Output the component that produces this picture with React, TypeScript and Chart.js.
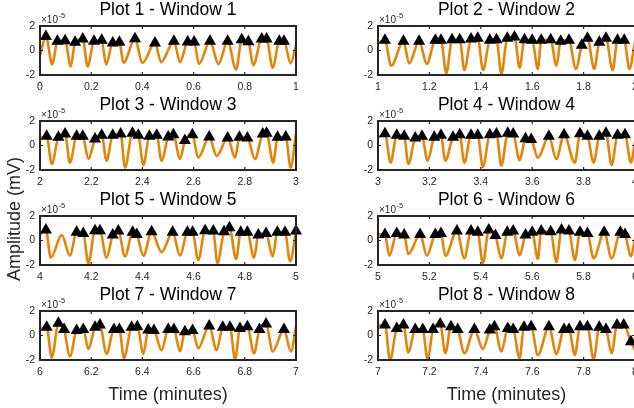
import { useEffect, useRef } from 'react';
import { Chart, registerables } from 'chart.js';

Chart.register(...registerables);

type Pair = [number, number];

// ---- chart text ----
const panelTitles = [
  'Plot 1 - Window 1', 'Plot 2 - Window 2', 'Plot 3 - Window 3', 'Plot 4 - Window 4',
  'Plot 5 - Window 5', 'Plot 6 - Window 6', 'Plot 7 - Window 7', 'Plot 8 - Window 8',
];
const windowStarts = [0, 1, 2, 3, 4, 5, 6, 7];
const xTickStep = 0.2;
const yRange: Pair = [-2, 2];
const yTickStep = 2;
const xAxisTitle = 'Time (minutes)';
const yAxisTitle = 'Amplitude (mV)';
const exponentBase = '\u00d710';
const exponentPower = '-5';

// ---- detected peaks (time in minutes, amplitude in 1e-5 mV) ----
const peaks1: Pair[] = [[0.023, 1.15], [0.068, 0.75], [0.098, 0.8], [0.137, 0.67], [0.167, 0.93], [0.211, 0.75], [0.241, 0.83], [0.284, 0.61], [0.310, 0.67], [0.371, 0.96], [0.449, 0.61], [0.523, 0.75], [0.577, 0.69], [0.602, 0.69], [0.664, 0.75], [0.733, 0.75], [0.788, 0.88], [0.814, 0.72], [0.866, 0.93], [0.885, 0.93], [0.935, 0.75], [0.953, 0.75]];
const peaks2: Pair[] = [[1.027, 0.83], [1.099, 0.75], [1.160, 0.75], [1.223, 0.83], [1.245, 0.83], [1.288, 0.88], [1.318, 0.88], [1.362, 0.93], [1.388, 1.0], [1.435, 0.83], [1.461, 0.88], [1.503, 1.0], [1.531, 1.1], [1.570, 0.88], [1.600, 0.83], [1.635, 0.83], [1.672, 0.88], [1.711, 0.75], [1.743, 0.83], [1.793, 0.43], [1.815, 1.0], [1.861, 0.67], [1.887, 1.0], [1.932, 0.83], [1.958, 0.83]];
const peaks3: Pair[] = [[2.026, 0.75], [2.072, 0.67], [2.098, 0.93], [2.143, 0.75], [2.167, 0.75], [2.215, 0.53], [2.241, 0.83], [2.284, 0.83], [2.315, 0.93], [2.361, 1.0], [2.384, 0.83], [2.427, 0.75], [2.456, 0.83], [2.501, 0.69], [2.521, 0.88], [2.566, 0.4], [2.595, 0.88], [2.661, 0.69], [2.733, 0.61], [2.779, 0.67], [2.810, 0.61], [2.870, 0.93], [2.885, 1.0], [2.928, 0.67], [2.960, 0.69]];
const peaks4: Pair[] = [[3.027, 0.96], [3.073, 0.83], [3.102, 0.75], [3.145, 0.61], [3.171, 0.75], [3.219, 0.67], [3.245, 0.83], [3.292, 0.67], [3.318, 0.88], [3.362, 0.83], [3.388, 0.83], [3.435, 0.88], [3.461, 0.93], [3.505, 1.0], [3.526, 0.93], [3.574, 0.56], [3.596, 0.48], [3.665, 0.75], [3.724, 0.88], [3.786, 0.96], [3.815, 0.75], [3.861, 0.75], [3.887, 1.0], [3.932, 0.83], [3.961, 0.88]];
const peaks5: Pair[] = [[4.023, 0.86], [4.143, 0.67], [4.169, 0.58], [4.215, 0.8], [4.234, 0.8], [4.284, 0.45], [4.306, 0.78], [4.362, 0.67], [4.378, 0.5], [4.436, 0.72], [4.518, 0.67], [4.576, 0.67], [4.596, 0.67], [4.645, 0.8], [4.677, 0.78], [4.719, 0.72], [4.740, 1.05], [4.784, 0.67], [4.810, 0.67], [4.853, 0.45], [4.883, 0.58], [4.927, 0.67], [4.957, 0.67], [5.000, 0.78]];
const peaks6: Pair[] = [[5.027, 0.5], [5.073, 0.58], [5.102, 0.45], [5.164, 0.5], [5.223, 0.5], [5.245, 0.58], [5.307, 0.78], [5.362, 0.78], [5.388, 0.67], [5.431, 0.86], [5.457, 0.4], [5.503, 0.67], [5.526, 0.78], [5.574, 0.45], [5.600, 0.67], [5.635, 0.78], [5.672, 0.72], [5.714, 0.86], [5.743, 0.78], [5.786, 0.67], [5.815, 0.58], [5.880, 0.67], [5.943, 0.67], [5.961, 0.5]];
const peaks7: Pair[] = [[6.026, 0.67], [6.072, 0.99], [6.094, 0.5], [6.143, 0.4], [6.169, 0.5], [6.215, 0.67], [6.234, 0.86], [6.289, 0.5], [6.310, 0.5], [6.358, 0.67], [6.380, 0.72], [6.423, 0.45], [6.445, 0.4], [6.501, 0.5], [6.523, 0.5], [6.566, 0.31], [6.596, 0.4], [6.661, 0.78], [6.714, 0.67], [6.742, 0.67], [6.781, 0.58], [6.810, 0.72], [6.857, 0.5], [6.883, 0.94], [6.953, 0.5]];
const peaks8: Pair[] = [[7.027, 0.86], [7.073, 0.58], [7.099, 0.86], [7.145, 0.5], [7.174, 0.5], [7.214, 0.5], [7.242, 0.94], [7.284, 0.72], [7.310, 0.5], [7.375, 0.5], [7.435, 0.45], [7.453, 0.72], [7.505, 0.58], [7.526, 0.5], [7.568, 0.67], [7.596, 0.72], [7.665, 0.72], [7.724, 0.5], [7.743, 0.5], [7.786, 0.72], [7.815, 0.72], [7.861, 0.67], [7.887, 0.5], [7.930, 0.86], [7.956, 0.86], [7.984, -0.5]];

// ---- signal minima ----
const troughs1: Pair[] = [[0.048, -1.15], [0.120, -1.3], [0.186, -1.3], [0.258, -1.15], [0.326, -1.0], [0.400, -1.0], [0.473, -0.95], [0.547, -0.95], [0.621, -1.1], [0.697, -1.1], [0.766, -1.55], [0.833, -1.2], [0.909, -1.4], [0.979, -1.05]];
const troughs2: Pair[] = [[1.051, -1.25], [1.121, -1.05], [1.190, -1.1], [1.266, -1.85], [1.336, -1.6], [1.409, -1.6], [1.480, -1.9], [1.551, -1.4], [1.622, -1.5], [1.694, -1.25], [1.770, -1.5], [1.841, -1.5], [1.913, -1.6], [1.978, -1.5]];
const troughs3: Pair[] = [[2.046, -1.5], [2.117, -1.4], [2.189, -1.1], [2.260, -1.25], [2.332, -1.8], [2.404, -1.6], [2.475, -1.25], [2.547, -1.1], [2.618, -1.0], [2.690, -0.85], [2.762, -1.0], [2.840, -1.1], [2.911, -1.4], [2.979, -1.8]];
const troughs4: Pair[] = [[3.049, -1.4], [3.118, -1.5], [3.193, -1.25], [3.262, -1.25], [3.336, -1.4], [3.408, -1.75], [3.480, -1.65], [3.551, -1.2], [3.622, -1.0], [3.694, -1.1], [3.766, -1.4], [3.839, -1.4], [3.909, -1.6], [3.984, -1.4]];
const troughs5: Pair[] = [[4.042, -1.4], [4.117, -1.25], [4.189, -1.85], [4.260, -1.4], [4.332, -1.3], [4.404, -1.25], [4.475, -0.95], [4.547, -1.25], [4.618, -1.6], [4.693, -1.85], [4.766, -1.5], [4.836, -1.4], [4.909, -1.3], [4.977, -1.7]];
const troughs6: Pair[] = [[5.044, -1.25], [5.118, -1.1], [5.190, -1.25], [5.262, -1.25], [5.336, -1.45], [5.408, -1.85], [5.480, -1.45], [5.551, -1.2], [5.622, -1.5], [5.694, -1.75], [5.766, -1.6], [5.839, -1.45], [5.909, -1.45], [5.984, -1.3]];
const troughs7: Pair[] = [[6.046, -1.8], [6.117, -1.7], [6.189, -1.1], [6.260, -1.5], [6.328, -1.85], [6.404, -1.5], [6.475, -1.2], [6.547, -1.3], [6.618, -1.05], [6.690, -1.2], [6.762, -1.95], [6.836, -1.45], [6.909, -1.3], [6.980, -1.3]];
const troughs8: Pair[] = [[7.047, -2.0], [7.118, -1.4], [7.193, -1.95], [7.262, -1.45], [7.336, -1.45], [7.408, -1.1], [7.480, -1.3], [7.551, -1.85], [7.622, -1.6], [7.694, -1.5], [7.766, -1.6], [7.839, -1.95], [7.909, -1.45]];

// ---- unmarked local maxima of the trace ----
const humps5: Pair[] = [[4.085, 0.45]];

// ---- trace value at each window's first and last sample ----
const edgeStart = [-0.45, 0.6, 0.6, 0.65, 0.45, 0.5, 0.5, 0.8];
const edgeEnd: (number | null)[] = [0.4, 0.7, 1.0, 0.3, null, 0.2, 0.7, -1.2];

const peakSets = [peaks1, peaks2, peaks3, peaks4, peaks5, peaks6, peaks7, peaks8];
const troughSets = [troughs1, troughs2, troughs3, troughs4, troughs5, troughs6, troughs7, troughs8];
const humpSets: Pair[][] = [[], [], [], [], humps5, [], [], []];

// ---- styling / layout ----
const ORANGE = 'rgb(228,132,8)';
const AXIS_COLOR = '#262626';
const FONT = "'Liberation Sans', Arial, Helvetica, sans-serif";
const CANVAS_W = 646;
const CANVAS_H = 408;
const FRAME_LEFT = [40, 378];
const FRAME_W = [256, 257];
const FRAME_TOP = [26, 121, 216, 311];
const FRAME_H = 49;
const Y_AXIS_W = 30;
const X_AXIS_H = 30;
const TICK_LEN = 3;

Chart.defaults.font.family = FONT;

function tracePoints(i: number) {
  const start = windowStarts[i];
  const pts: Pair[] = [[start, edgeStart[i]], ...peakSets[i], ...troughSets[i], ...humpSets[i]];
  const end = edgeEnd[i];
  if (end !== null) pts.push([start + 1, end]);
  pts.sort((a, b) => a[0] - b[0]);
  return pts.map(([x, y]) => ({ x, y }));
}

function decorPlugin(i: number) {
  const row = Math.floor(i / 2);
  return {
    id: 'panelDecor',
    afterDraw(chart: Chart) {
      const { ctx, chartArea: a } = chart;
      const xs = chart.scales.x;
      const ys = chart.scales.y;
      ctx.save();
      // box
      ctx.strokeStyle = AXIS_COLOR;
      ctx.lineWidth = 2;
      ctx.strokeRect(a.left, a.top, a.right - a.left, a.bottom - a.top);
      // inward tick marks on all four sides
      ctx.lineWidth = 1.2;
      ctx.beginPath();
      xs.ticks.forEach((t) => {
        const px = xs.getPixelForValue(t.value);
        ctx.moveTo(px, a.bottom);
        ctx.lineTo(px, a.bottom - TICK_LEN);
        ctx.moveTo(px, a.top);
        ctx.lineTo(px, a.top + TICK_LEN);
      });
      ys.ticks.forEach((t) => {
        const py = ys.getPixelForValue(t.value);
        ctx.moveTo(a.left, py);
        ctx.lineTo(a.left + TICK_LEN, py);
        ctx.moveTo(a.right, py);
        ctx.lineTo(a.right - TICK_LEN, py);
      });
      ctx.stroke();

      // title
      ctx.fillStyle = '#000';
      ctx.font = `17.5px ${FONT}`;
      ctx.textAlign = 'center';
      ctx.textBaseline = 'middle';
      ctx.fillText(panelTitles[i], (a.left + a.right) / 2, a.top - 16);

      // axis exponent
      ctx.fillStyle = AXIS_COLOR;
      ctx.textAlign = 'left';
      ctx.textBaseline = 'alphabetic';
      ctx.font = `10px ${FONT}`;
      ctx.fillText(exponentBase, a.left + 1, a.top - 3);
      const baseW = ctx.measureText(exponentBase).width;
      ctx.font = `7.5px ${FONT}`;
      ctx.fillText(exponentPower, a.left + 1 + baseW + 0.5, a.top - 8);

      // shared axis titles
      ctx.fillStyle = AXIS_COLOR;
      ctx.font = `18px ${FONT}`;
      ctx.textAlign = 'center';
      ctx.textBaseline = 'middle';
      if (row === 3) {
        ctx.fillText(xAxisTitle, (a.left + a.right) / 2, 395);
      }
      if (i === 0) {
        ctx.translate(15, 219);
        ctx.rotate(-Math.PI / 2);
        ctx.fillText(yAxisTitle, 0, 0);
      }
      ctx.restore();
    },
  };
}

function makeChart(canvas: HTMLCanvasElement, i: number) {
  const col = i % 2;
  const row = Math.floor(i / 2);
  const left = FRAME_LEFT[col];
  const top = FRAME_TOP[row];
  const start = windowStarts[i];
  return new Chart(canvas, {
    type: 'line',
    data: {
      datasets: [
        {
          data: peakSets[i].map(([x, y]) => ({ x, y })),
          showLine: false,
          pointStyle: 'triangle',
          pointRadius: 7,
          pointBackgroundColor: '#000',
          pointBorderColor: '#000',
          pointBorderWidth: 0,
          clip: false,
          order: 0,
        },
        {
          data: tracePoints(i),
          borderColor: ORANGE,
          borderWidth: 2.6,
          pointRadius: 0,
          cubicInterpolationMode: 'monotone',
          fill: false,
          order: 1,
        },
      ],
    },
    options: {
      responsive: false,
      animation: false,
      devicePixelRatio: 1,
      events: [],
      layout: {
        padding: {
          left: left - Y_AXIS_W,
          right: CANVAS_W - (left + FRAME_W[col]),
          top,
          bottom: CANVAS_H - (top + FRAME_H) - X_AXIS_H,
        },
      },
      plugins: {
        legend: { display: false },
        tooltip: { enabled: false },
        title: { display: false },
      },
      scales: {
        x: {
          type: 'linear',
          min: start,
          max: start + 1,
          grid: { display: false, drawTicks: false },
          border: { display: false },
          ticks: {
            stepSize: xTickStep,
            padding: 6,
            color: AXIS_COLOR,
            font: { size: 10.5, family: FONT },
            maxRotation: 0,
            autoSkip: false,
            callback: (v: number | string) => String(Math.round(Number(v) * 10) / 10),
          },
          afterFit: (s: any) => {
            s.height = X_AXIS_H;
          },
        },
        y: {
          type: 'linear',
          min: yRange[0],
          max: yRange[1],
          grid: { display: false, drawTicks: false },
          border: { display: false },
          ticks: {
            stepSize: yTickStep,
            padding: 5,
            color: AXIS_COLOR,
            font: { size: 10.5, family: FONT },
            callback: (v: number | string) => String(v),
          },
          afterFit: (s: any) => {
            s.width = Y_AXIS_W;
          },
        },
      },
    },
    plugins: [decorPlugin(i)],
  } as any);
}

export default function App() {
  const refs = useRef<(HTMLCanvasElement | null)[]>([]);

  useEffect(() => {
    const charts = panelTitles.map((_, i) => makeChart(refs.current[i] as HTMLCanvasElement, i));
    return () => charts.forEach((c) => c.destroy());
  }, []);

  return (
    <div
      style={{
        position: 'fixed',
        left: 0,
        top: 0,
        width: 634,
        height: 408,
        overflow: 'hidden',
        background: '#fff',
      }}
    >
      {panelTitles.map((t, i) => (
        <canvas
          key={t}
          ref={(el) => {
            refs.current[i] = el;
          }}
          width={CANVAS_W}
          height={CANVAS_H}
          style={{ position: 'absolute', left: 0, top: 0, width: CANVAS_W, height: CANVAS_H }}
        />
      ))}
    </div>
  );
}
